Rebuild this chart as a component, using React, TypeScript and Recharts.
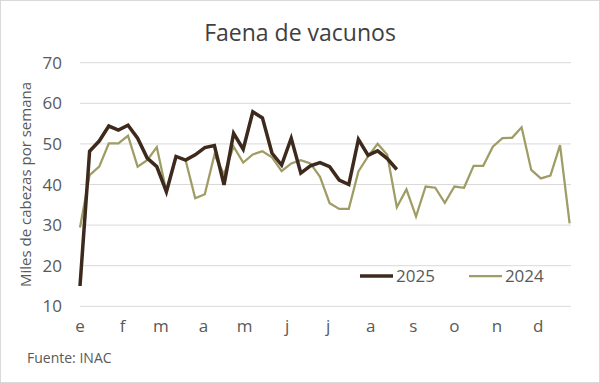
import { CartesianGrid, Legend, Line, LineChart, XAxis, YAxis } from "recharts";

// weekly slaughter, thousands of head
const FAENA_2025 = [
  15.0, 48.2, 50.7, 54.4, 53.4, 54.6, 51.4, 46.5, 44.4, 38.2, 46.9, 46.0,
  47.3, 49.1, 49.6, 39.9, 52.6, 48.7, 57.9, 56.4, 47.7, 44.8, 51.4, 42.8,
  44.6, 45.4, 44.4, 41.1, 40.0, 51.1, 47.2, 48.3, 46.4, 43.7,
];
const FAENA_2024 = [
  29.4, 42.3, 44.4, 50.1, 50.1, 52.0, 44.4, 46.0, 49.2, 38.2, 47.0, 46.0,
  36.6, 37.6, 47.3, 42.5, 49.3, 45.4, 47.4, 48.2, 46.7, 43.3, 45.2, 46.0,
  45.2, 41.9, 35.4, 34.0, 34.0, 43.2, 46.9, 50.0, 47.3, 34.4, 38.8, 32.1,
  39.5, 39.2, 35.5, 39.5, 39.2, 44.6, 44.6, 49.3, 51.4, 51.5, 54.1, 43.6,
  41.5, 42.2, 49.7, 30.4,
];
const MONTH_LABELS = ["e", "f", "m", "a", "m", "j", "j", "a", "s", "o", "n", "d"];
const MONTH_START_DAYS = [1, 32, 60, 91, 121, 152, 182, 213, 244, 274, 305, 335];
const Y_TICKS = [10, 20, 30, 40, 50, 60, 70];

const FONT = '"Open Sans", sans-serif';
const TEXT = "#595959";
const COLOR_2025 = "#3d2a1d";
const COLOR_2024 = "#9f9c66";

const data = FAENA_2024.map((v, i) => ({
  day: 1 + 7 * i,
  y2024: v,
  y2025: FAENA_2025[i],
}));

function LegendContent() {
  const items = [
    { name: "2025", color: COLOR_2025, width: 3.5 },
    { name: "2024", color: COLOR_2024, width: 2.25 },
  ];
  return (
    <div style={{ display: "flex", alignItems: "center", fontFamily: FONT }}>
      {items.map((it) => (
        <div
          key={it.name}
          style={{ display: "flex", alignItems: "center", marginRight: 34 }}
        >
          <svg width={33} height={10} style={{ marginRight: 3 }}>
            <line x1={0} y1={5} x2={33} y2={5} stroke={it.color} strokeWidth={it.width} />
          </svg>
          <span style={{ fontSize: 17, color: TEXT, lineHeight: "24px" }}>{it.name}</span>
        </div>
      ))}
    </div>
  );
}

export default function App() {
  return (
    <div
      style={{
        position: "absolute",
        left: 0,
        top: 0,
        width: 600,
        height: 383,
        background: "#fff",
        boxShadow: "inset 0 0 0 1px #d9d9d9",
        fontFamily: FONT,
      }}
    >
      <div
        style={{
          position: "absolute",
          top: 17,
          left: 0,
          width: 600,
          textAlign: "center",
          fontSize: 23,
          lineHeight: "30px",
          color: "#404040",
        }}
      >
        Faena de vacunos
      </div>
      <LineChart
        width={600}
        height={383}
        data={data}
        margin={{ top: 62.7, right: 29, bottom: 46.7, left: 10 }}
      >
        <CartesianGrid vertical={false} stroke="#d9d9d9" strokeWidth={1} />
        <XAxis
          type="number"
          dataKey="day"
          domain={[1, 359]}
          ticks={MONTH_START_DAYS}
          tickFormatter={(d: number) => MONTH_LABELS[MONTH_START_DAYS.indexOf(d)]}
          axisLine={false}
          tickLine={false}
          tickSize={0}
          tickMargin={14}
          height={30}
          interval={0}
          tick={{ fontSize: 17, fill: TEXT, fontFamily: FONT }}
        />
        <YAxis
          type="number"
          domain={[10, 70]}
          ticks={Y_TICKS}
          axisLine={false}
          tickLine={false}
          tickSize={0}
          tickMargin={18}
          width={70}
          tick={{ fontSize: 17, fill: TEXT, fontFamily: FONT }}
          label={{
            value: "Miles de cabezas por semana",
            angle: -90,
            position: "insideLeft",
            offset: 16,
            style: { textAnchor: "middle", fontSize: 15, fill: TEXT, fontFamily: FONT },
          }}
        />
        <Legend
          layout="horizontal"
          verticalAlign="middle"
          align="center"
          content={<LegendContent />}
          wrapperStyle={{ left: 360, top: 264, width: 240 }}
        />
        <Line
          type="linear"
          dataKey="y2024"
          name="2024"
          stroke={COLOR_2024}
          strokeWidth={2.25}
          dot={false}
          isAnimationActive={false}
        />
        <Line
          type="linear"
          dataKey="y2025"
          name="2025"
          stroke={COLOR_2025}
          strokeWidth={3.5}
          dot={false}
          isAnimationActive={false}
        />
      </LineChart>
      <div
        style={{
          position: "absolute",
          left: 27,
          top: 348,
          fontSize: 14,
          lineHeight: "20px",
          color: TEXT,
        }}
      >
        Fuente: INAC
      </div>
    </div>
  );
}
